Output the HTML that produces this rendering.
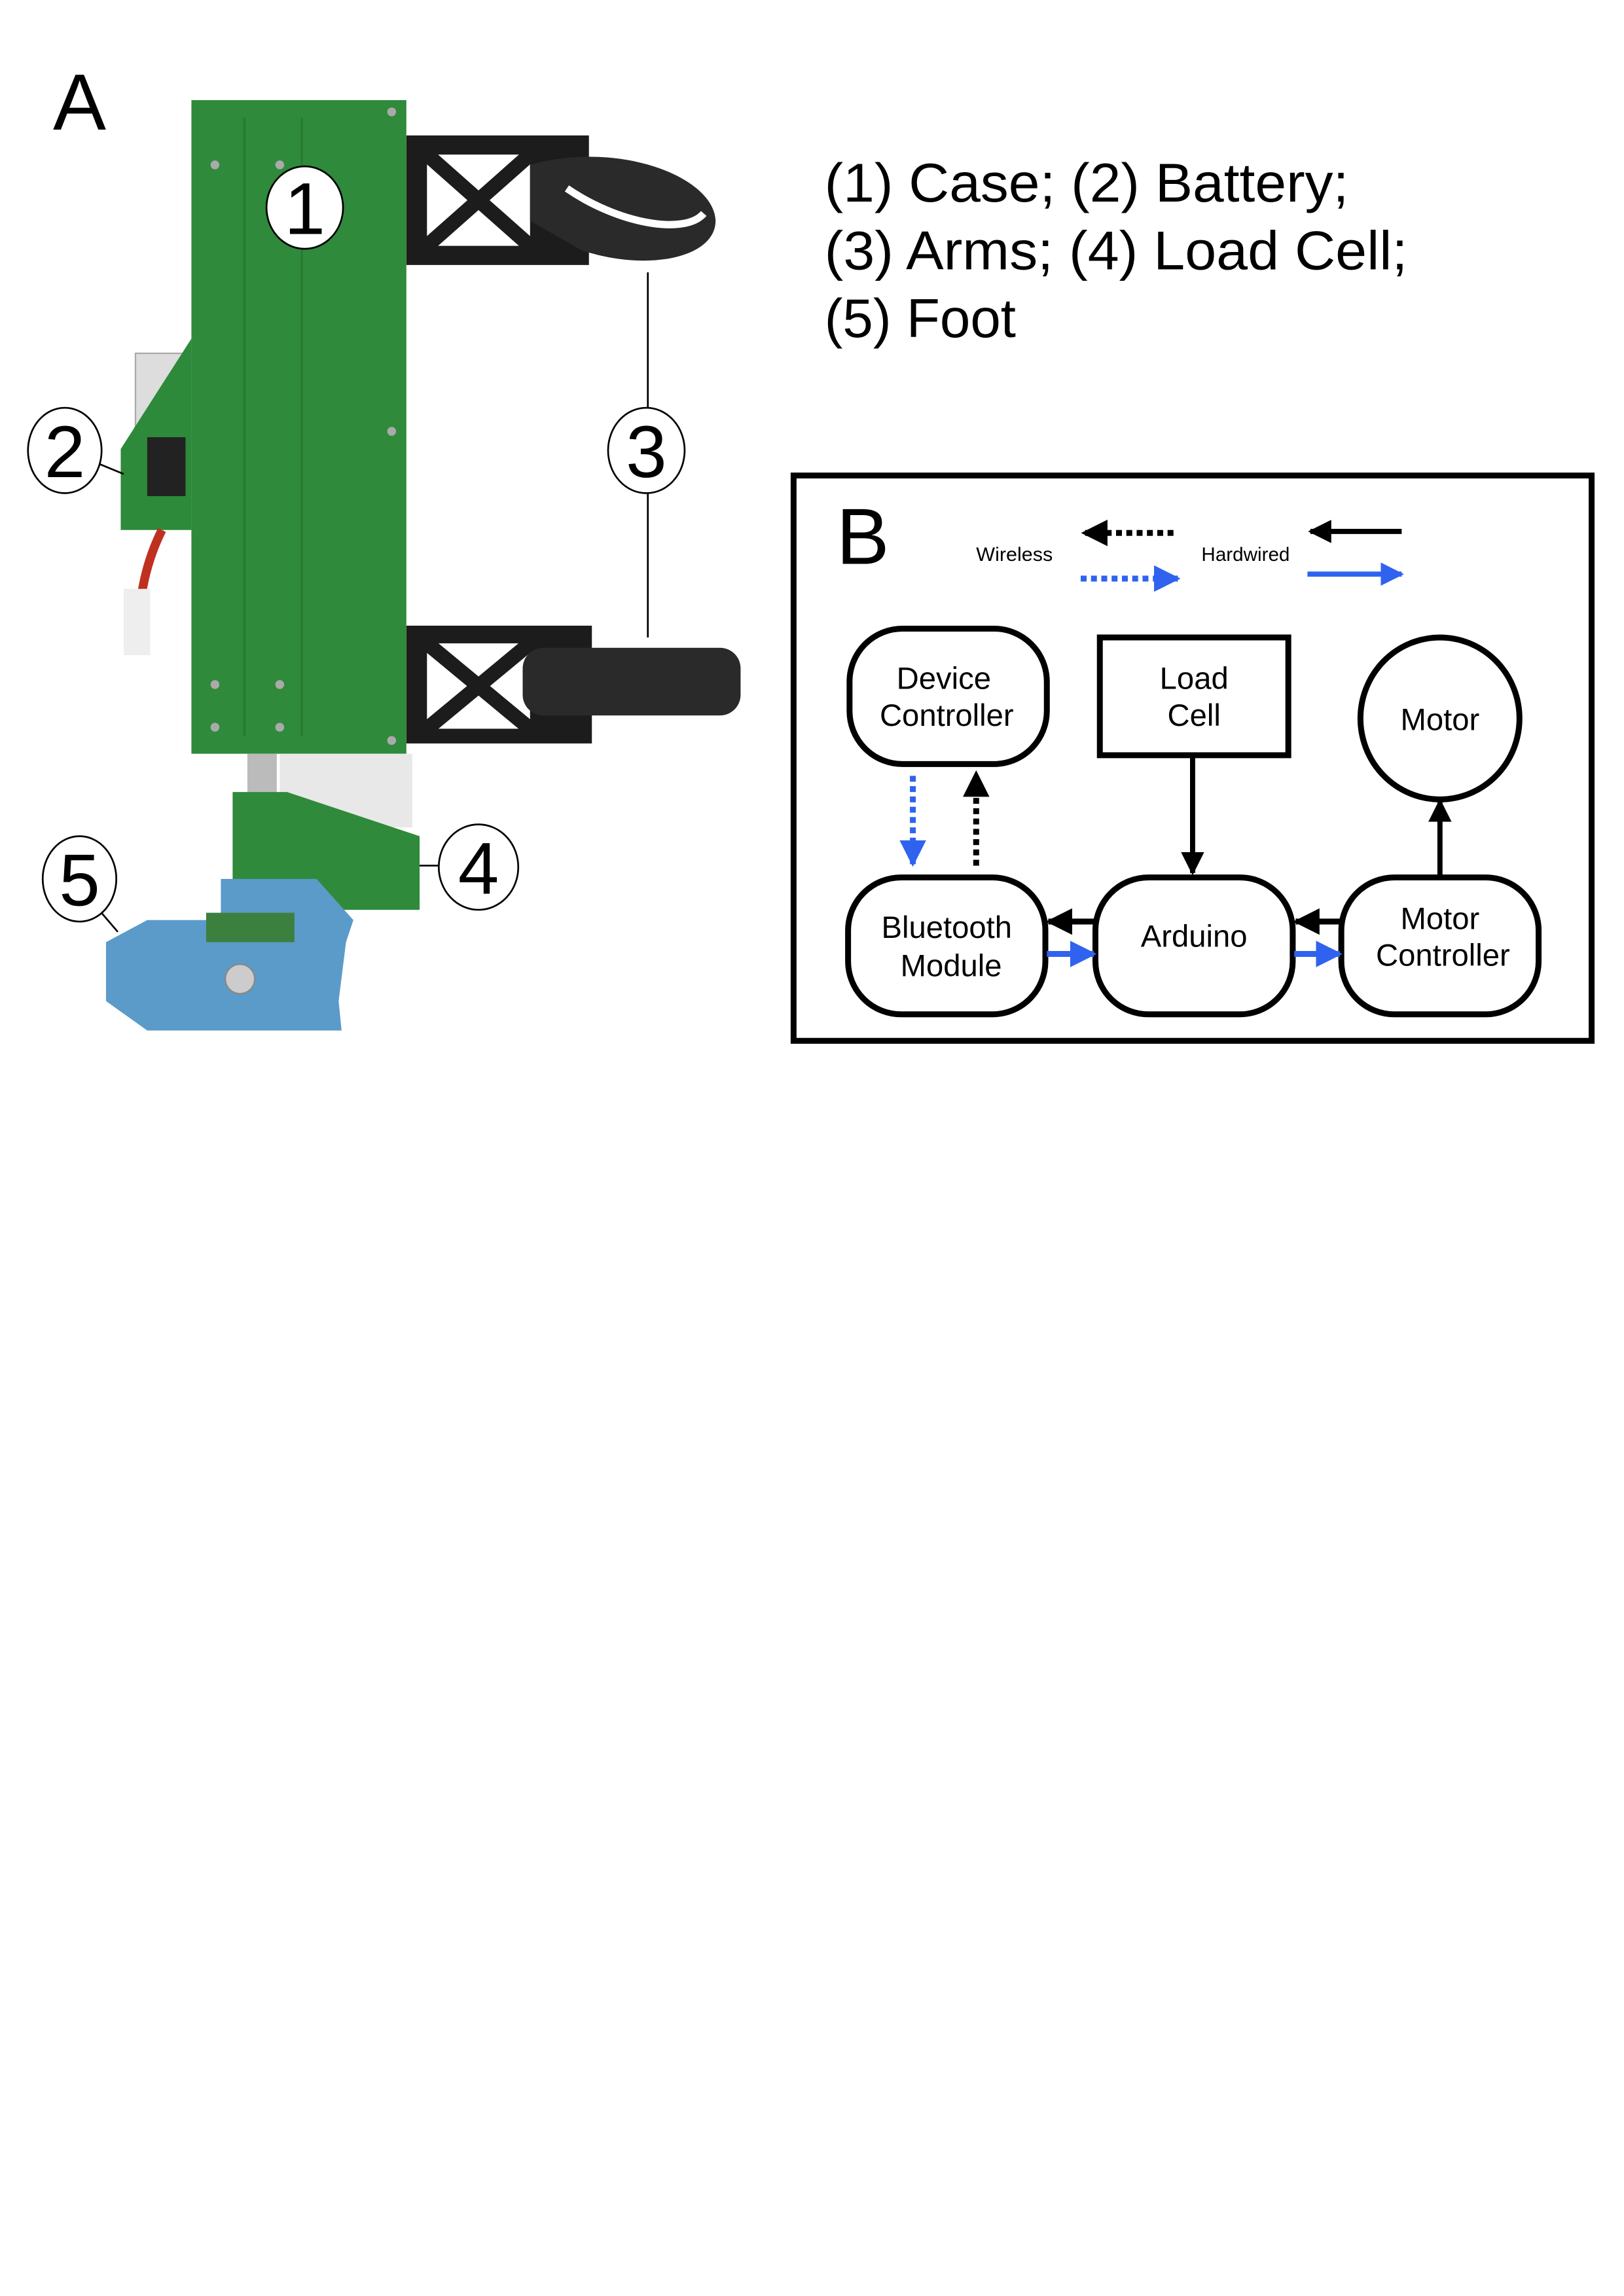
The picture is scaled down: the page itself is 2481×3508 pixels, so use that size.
<!DOCTYPE html>
<html><head><meta charset="utf-8"><style>html,body{margin:0;padding:0;background:#fff}svg{display:block}</style></head>
<body>
<svg width="2481" height="3508" viewBox="0 0 1103 1559.6" preserveAspectRatio="none" xmlns="http://www.w3.org/2000/svg" font-family="Liberation Sans, sans-serif">
<defs>
<marker id="ab" viewBox="0 0 10 10" refX="9" refY="5" markerWidth="4.5" markerHeight="4.5" orient="auto" markerUnits="strokeWidth"><path d="M0,0 L10,5 L0,10z" fill="#000"/></marker>
<marker id="au" viewBox="0 0 10 10" refX="9" refY="5" markerWidth="4.5" markerHeight="4.5" orient="auto" markerUnits="strokeWidth"><path d="M0,0 L10,5 L0,10z" fill="#2f63ef"/></marker>
</defs>
<rect width="1103" height="1560" fill="#fff"/>
<!-- Panel A -->
<text x="36" y="88" font-size="54">A</text>
<g font-size="37">
<text x="560" y="137" textLength="356" lengthAdjust="spacingAndGlyphs">(1) Case;  (2) Battery;</text>
<text x="560" y="183" textLength="396" lengthAdjust="spacingAndGlyphs">(3) Arms;  (4) Load Cell;</text>
<text x="560" y="229" textLength="130" lengthAdjust="spacingAndGlyphs">(5) Foot</text>
</g>
<!-- battery -->
<rect x="92" y="240" width="40" height="60" fill="#ddd" stroke="#aaa"/>
<polygon points="82,305 130,230 130,360 82,360" fill="#2d8a3a"/>
<rect x="100" y="297" width="26" height="40" fill="#222"/>
<path d="M110,360 C100,380 95,400 92,440" stroke="#c03020" stroke-width="6" fill="none"/>
<rect x="84" y="400" width="18" height="45" fill="#eee"/>
<!-- arms -->
<rect x="276" y="92" width="124" height="88" fill="#1c1c1c"/>
<rect x="290" y="105" width="70" height="62" fill="#fff"/>
<path d="M290,105 L360,167 M360,105 L290,167" stroke="#1c1c1c" stroke-width="10"/>
<path d="M360,112 C420,95 485,120 486,150 C486,175 440,185 395,170 L360,150 Z" fill="#2a2a2a"/>
<path d="M385,128 C420,152 465,160 478,145" stroke="#fff" stroke-width="5" fill="none"/>
<rect x="276" y="425" width="126" height="80" fill="#1c1c1c"/>
<rect x="290" y="437" width="70" height="58" fill="#fff"/>
<path d="M290,437 L360,495 M360,437 L290,495" stroke="#1c1c1c" stroke-width="10"/>
<rect x="355" y="440" width="148" height="46" rx="14" fill="#2a2a2a"/>
<!-- case -->
<rect x="130" y="68" width="146" height="444" fill="#2f8a3b"/>
<line x1="166" y1="80" x2="166" y2="500" stroke="#277a32" stroke-width="1.5"/>
<line x1="205" y1="80" x2="205" y2="500" stroke="#277a32" stroke-width="1.5"/>
<g fill="#aaa"><circle cx="146" cy="112" r="3"/><circle cx="190" cy="112" r="3"/><circle cx="266" cy="76" r="3"/><circle cx="266" cy="293" r="3"/><circle cx="146" cy="465" r="3"/><circle cx="190" cy="465" r="3"/><circle cx="146" cy="494" r="3"/><circle cx="190" cy="494" r="3"/><circle cx="266" cy="503" r="3"/></g>
<!-- load cell -->
<rect x="168" y="512" width="20" height="30" fill="#bbb"/>
<rect x="190" y="512" width="90" height="50" fill="#e8e8e8"/>
<polygon points="158,538 195,538 285,568 285,618 158,618" fill="#2f8a3b"/>
<!-- foot -->
<polygon points="150,597 215,597 240,625 235,640 230,680 232,700 100,700 72,680 72,640 100,625 150,625" fill="#5b9bc9"/>
<rect x="140" y="620" width="60" height="20" fill="#3c8040"/>
<circle cx="163" cy="665" r="10" fill="#ccc" stroke="#888"/>
<!-- callouts -->
<g stroke="#000" stroke-width="1.2" fill="none">
<line x1="440" y1="185" x2="440" y2="280"/><line x1="440" y1="332" x2="440" y2="433"/>
<line x1="67" y1="315" x2="84" y2="322"/>
<line x1="298" y1="588" x2="285" y2="588"/>
<line x1="68" y1="619" x2="80" y2="633"/>
</g>
<g stroke="#000" stroke-width="1.2" fill="#fff">
<ellipse cx="207" cy="141" rx="26" ry="28"/>
<ellipse cx="44" cy="306" rx="25" ry="29"/>
<ellipse cx="439" cy="306" rx="26" ry="29"/>
<ellipse cx="325" cy="589" rx="27" ry="29"/>
<ellipse cx="54" cy="597" rx="25" ry="29"/>
</g>
<g font-size="50" text-anchor="middle">
<text x="207" y="159">1</text><text x="44" y="324">2</text><text x="439" y="324">3</text><text x="325" y="607">4</text><text x="54" y="615">5</text>
</g>
<!-- Panel B -->
<rect x="539" y="323" width="542" height="384" fill="none" stroke="#000" stroke-width="4"/>
<text x="568" y="383" font-size="54">B</text>
<text x="663" y="381" font-size="13" textLength="52" lengthAdjust="spacingAndGlyphs">Wireless</text>
<text x="816" y="381" font-size="13" textLength="60" lengthAdjust="spacingAndGlyphs">Hardwired</text>
<line x1="797" y1="362" x2="736" y2="362" stroke="#000" stroke-width="4" stroke-dasharray="4,3" marker-end="url(#ab)"/>
<line x1="734" y1="393" x2="800" y2="393" stroke="#2f63ef" stroke-width="4" stroke-dasharray="4,3" marker-end="url(#au)"/>
<line x1="952" y1="361" x2="890" y2="361" stroke="#000" stroke-width="3.5" marker-end="url(#ab)"/>
<line x1="888" y1="390" x2="952" y2="390" stroke="#2f63ef" stroke-width="3.5" marker-end="url(#au)"/>
<g fill="#fff" stroke="#000" stroke-width="4">
<rect x="577" y="427" width="134" height="92" rx="36"/>
<rect x="747" y="433" width="128" height="80"/>
<ellipse cx="978" cy="488" rx="54" ry="55"/>
<rect x="576" y="596" width="134" height="93" rx="36"/>
<rect x="744" y="596" width="134" height="93" rx="36"/>
<rect x="911" y="596" width="134" height="93" rx="36"/>
</g>
<g font-size="21" text-anchor="middle">
<text x="641" y="468">Device</text><text x="643" y="493">Controller</text>
<text x="811" y="468">Load</text><text x="811" y="493">Cell</text>
<text x="978" y="496">Motor</text>
<text x="643" y="637">Bluetooth</text><text x="646" y="663">Module</text>
<text x="811" y="643">Arduino</text>
<text x="978" y="631">Motor</text><text x="980" y="656">Controller</text>
</g>
<line x1="620" y1="527" x2="620" y2="587" stroke="#2f63ef" stroke-width="4" stroke-dasharray="4,3" marker-end="url(#au)"/>
<line x1="663" y1="588" x2="663" y2="525" stroke="#000" stroke-width="4" stroke-dasharray="4,3" marker-end="url(#ab)"/>
<line x1="810" y1="513" x2="810" y2="593" stroke="#000" stroke-width="3.5" marker-end="url(#ab)"/>
<line x1="978" y1="595" x2="978" y2="544" stroke="#000" stroke-width="3.5" marker-end="url(#ab)"/>
<line x1="744" y1="626" x2="712" y2="626" stroke="#000" stroke-width="4" marker-end="url(#ab)"/>
<line x1="711" y1="648" x2="743" y2="648" stroke="#2f63ef" stroke-width="4" marker-end="url(#au)"/>
<line x1="911" y1="626" x2="880" y2="626" stroke="#000" stroke-width="4" marker-end="url(#ab)"/>
<line x1="879" y1="648" x2="910" y2="648" stroke="#2f63ef" stroke-width="4" marker-end="url(#au)"/>
</svg>
</body></html>
